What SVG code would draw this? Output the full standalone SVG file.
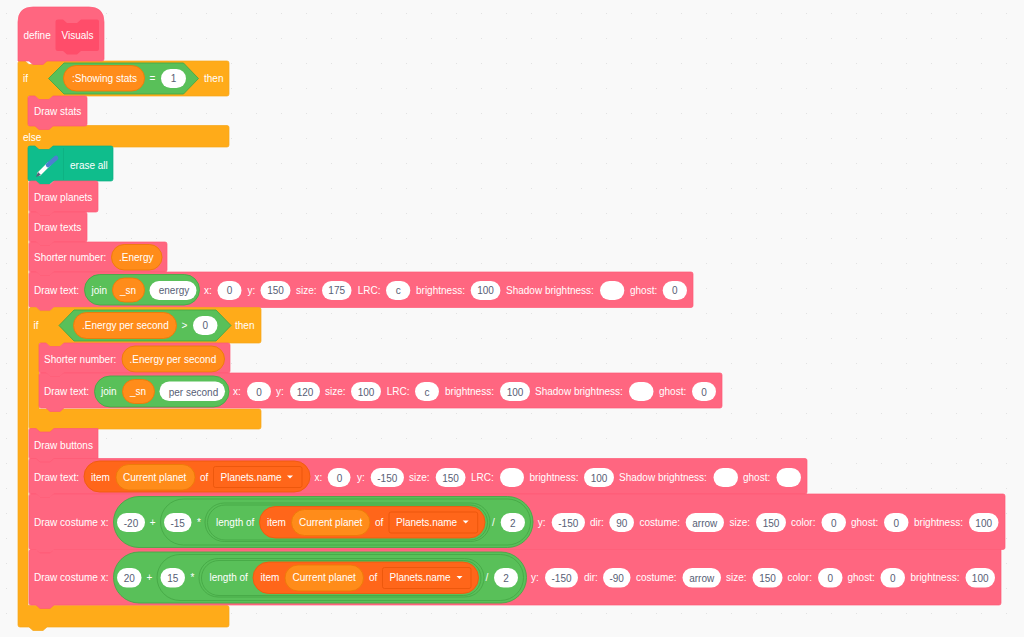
<svg xmlns="http://www.w3.org/2000/svg" width="1024" height="637" viewBox="0 0 1024 637">
<style>
text{font-family:"Liberation Sans",Arial,sans-serif;font-size:10px;fill:#fff;dominant-baseline:central}
.in{fill:#575E75;text-anchor:middle}
.mid{text-anchor:middle}
.b{fill:#FF6680;stroke:#FF5A76;stroke-width:.7}
.c{fill:#FFAB19;stroke:#F7A617;stroke-width:.7}
.pen{fill:#0FBD8C;stroke:#0DAF82;stroke-width:.7}
.g{fill:#59C059;stroke:#46A846;stroke-width:.9}
.v{fill:#FF8C1A;stroke:#EC7A08;stroke-width:.9}
.l{fill:#FF661A;stroke:#EE5A0E;stroke-width:.9}
.dd{fill:#FF661A;stroke:#E9540A;stroke-width:.8}
.w{fill:#fff}
.cdef{fill:#FF4D6A}
</style>
<defs>
<pattern id="dots" width="25" height="25" patternUnits="userSpaceOnUse" x="6" y="13">
<rect x="0" y="0" width="1" height="1" fill="#e2e2e2"/>
</pattern>
<path id="arrow" d="M-3,-1.5H3L0,1.5Z" fill="#fff"/>
</defs>
<rect width="1024" height="637" fill="#F9F9F9"/>
<rect width="1024" height="637" fill="url(#dots)"/>

<g id="if-outer">
<path class="c" d="M18,63Q18,61 20,61H25L29,64.5H39L43,61H227Q229,61 229,63V94Q229,96 227,96H53L49,99.5H39L35,96H28V125.5H227Q229,125.5 229,127.5V145Q229,147 227,147H53L49,150.500H39L35,147H28V605.500H227Q229,605.500 229,607.500V625Q229,627 227,627H47L43,630.500H33L29,627H20Q18,627 18,625Z"/>
<text x="23" y="78.500">if</text>
<text x="204" y="78.500">then</text>
<text x="23" y="137">else</text>
</g>

<g id="define-visuals">
<path class="b" d="M18,61V22Q18,7 33,7H89Q104,7 104,22V59Q104,61 102,61H47L43,64.500H33L29,61Z"/>
<text x="23.500" y="35">define</text>
<path class="cdef" d="M58,19.500H63L67,23H77L81,19.500H97Q99,19.500 99,21.500V49Q99,51 97,51H81L77,54.500H67L63,51H58Q55.500,51 55.500,49V21.500Q55.500,19.500 58,19.500Z"/>
<text x="61.500" y="35.500">Visuals</text>
</g>

<g id="showing-stats-cond">
<path class="g" d="M64,63H183.500L198.500,78.500L183.500,94H64L48.500,78.500Z"/>
<rect class="v" x="63.500" y="65.500" width="81" height="25.500" rx="12.700"/>
<text x="72" y="78.500">:Showing stats</text>
<text x="149.500" y="78.500">=</text>
<rect class="w" x="161" y="69" width="25" height="19" rx="9.500"/>
<text class="in" x="173.500" y="78.500">1</text>
</g>

<g id="draw-stats">
<path class="b" d="M28,98Q28,96 30,96H35L39,99.500H49L53,96H85Q87,96 87,98V124Q87,126 85,126H53L49,129.500H39L35,126H30Q28,126 28,124Z"/>
<text x="34" y="111.500">Draw stats</text>
</g>

<g id="erase-all">
<path class="pen" d="M28,148Q28,146 30,146H35L39,149.500H49L53,146H111Q113,146 113,148V179Q113,181 111,181H53L49,184.500H39L35,181H30Q28,181 28,179Z"/>
<line x1="63.500" y1="148" x2="63.500" y2="180" stroke="#0DAF82" stroke-width=".8"/>
<line x1="39" y1="174" x2="49" y2="164" stroke="#fff" stroke-width="4" stroke-linecap="round"/>
<line x1="48" y1="165" x2="56" y2="158" stroke="#4C7FD0" stroke-width="4.500" stroke-linecap="round"/>
<path d="M36,177L38,172L41,175Z" fill="#575E75"/>
<text x="70" y="165">erase all</text>
</g>

<g id="draw-planets">
<path class="b" d="M29,183Q29,181 31,181H36L40,184.500H50L54,181H96Q98,181 98,183V210Q98,212 96,212H54L50,215.500H40L36,212H31Q29,212 29,210Z"/>
<text x="34" y="197.500">Draw planets</text>
</g>

<g id="draw-texts">
<path class="b" d="M29,214Q29,212 31,212H36L40,215.500H50L54,212H85Q87,212 87,214V240Q87,242 85,242H54L50,245.500H40L36,242H31Q29,242 29,240Z"/>
<text x="34" y="227.500">Draw texts</text>
</g>

<g id="shorter-energy">
<path class="b" d="M29,244Q29,242 31,242H36L40,245.500H50L54,242H165Q167,242 167,244V270Q167,272 165,272H54L50,275.500H40L36,272H31Q29,272 29,270Z"/>
<text x="34" y="257.500">Shorter number:</text>
<rect class="v" x="111.500" y="244.500" width="50.500" height="25.500" rx="12.700"/>
<text x="119" y="257.500">.Energy</text>
</g>

<g id="draw-text-energy">
<path class="b" d="M29,274Q29,272 31,272H36L40,275.500H50L54,272H691Q693,272 693,274V305.500Q693,307.500 691,307.500H54L50,311H40L36,307.500H31Q29,307.500 29,305.500Z"/>
<text x="34" y="290">Draw text:</text>
<rect class="g" x="84.500" y="274.500" width="115" height="30.500" rx="15.200"/>
<text x="91.500" y="290">join</text>
<rect class="v" x="112.500" y="278" width="32" height="24" rx="12"/>
<text x="120" y="290">_sn</text>
<rect class="w" x="149.500" y="281" width="47" height="19" rx="9.500"/>
<text class="in" x="174" y="290.500">energy</text>
<text x="204" y="290">x:</text>
<rect class="w" x="217.500" y="281" width="24" height="19" rx="9.500"/><text class="in" x="229.500" y="290.500">0</text>
<text x="247.500" y="290">y:</text>
<rect class="w" x="260.500" y="281" width="30" height="19" rx="9.500"/><text class="in" x="275.500" y="290.500">150</text>
<text x="296" y="290">size:</text>
<rect class="w" x="322" y="281" width="29.500" height="19" rx="9.500"/><text class="in" x="336.700" y="290.500">175</text>
<text x="357.700" y="290">LRC:</text>
<rect class="w" x="386" y="281" width="24.300" height="19" rx="9.500"/><text class="in" x="398.200" y="290.500">c</text>
<text x="416" y="290">brightness:</text>
<rect class="w" x="470.700" y="281" width="29.700" height="19" rx="9.500"/><text class="in" x="485.500" y="290.500">100</text>
<text x="506" y="290">Shadow brightness:</text>
<rect class="w" x="600" y="281" width="24.300" height="19" rx="9.500"/>
<text x="630" y="290">ghost:</text>
<rect class="w" x="662.700" y="281" width="24.300" height="19" rx="9.500"/><text class="in" x="674.800" y="290.500">0</text>
</g>

<g id="if-inner">
<path class="c" d="M29,309.500Q29,307.500 31,307.500H36L40,311H50L54,307.500H259Q261,307.500 261,309.500V341Q261,343 259,343H64L60,346.500H50L46,343H39V409H259Q261,409 261,411V427Q261,429 259,429H54L50,432.500H40L36,429H31Q29,429 29,427Z"/>
<text x="33.500" y="325.500">if</text>
<text x="235" y="325.500">then</text>
<path class="g" d="M74,310H216L231,325.500L216,341H74L59,325.500Z"/>
<rect class="v" x="73.500" y="312.500" width="103" height="26" rx="13"/>
<text x="82" y="325.500">.Energy per second</text>
<text x="181.500" y="325.500">&gt;</text>
<rect class="w" x="193" y="316" width="24.500" height="19" rx="9.500"/>
<text class="in" x="205.200" y="325.500">0</text>
</g>

<g id="shorter-energy-per-second">
<path class="b" d="M39,345Q39,343 41,343H46L50,346.500H60L64,343H228Q230,343 230,345V371Q230,373 228,373H64L60,376.500H50L46,373H41Q39,373 39,371Z"/>
<text x="44" y="359">Shorter number:</text>
<rect class="v" x="122" y="346" width="102.500" height="26" rx="13"/>
<text x="129.500" y="359">.Energy per second</text>
</g>

<g id="draw-text-per-second">
<path class="b" d="M39,375Q39,373 41,373H46L50,376.500H60L64,373H720Q722,373 722,375V406Q722,408 720,408H64L60,411.500H50L46,408H41Q39,408 39,406Z"/>
<text x="44" y="391.500">Draw text:</text>
<rect class="g" x="94.500" y="376" width="134.500" height="31" rx="15.500"/>
<text x="101" y="391.500">join</text>
<rect class="v" x="122.500" y="379.500" width="32" height="24" rx="12"/>
<text x="130" y="391.500">_sn</text>
<rect class="w" x="159.500" y="381.500" width="65.500" height="19.500" rx="9.700"/>
<text class="in" x="193.500" y="392">per second</text>
<text x="233" y="391.500">x:</text>
<rect class="w" x="247" y="382" width="24" height="19" rx="9.500"/><text class="in" x="259" y="392">0</text>
<text x="276" y="391.500">y:</text>
<rect class="w" x="290" y="382" width="30" height="19" rx="9.500"/><text class="in" x="305" y="392">120</text>
<text x="325" y="391.500">size:</text>
<rect class="w" x="351" y="382" width="30" height="19" rx="9.500"/><text class="in" x="366" y="392">100</text>
<text x="386.700" y="391.500">LRC:</text>
<rect class="w" x="415" y="382" width="24" height="19" rx="9.500"/><text class="in" x="427" y="392">c</text>
<text x="445" y="391.500">brightness:</text>
<rect class="w" x="500" y="382" width="30" height="19" rx="9.500"/><text class="in" x="515" y="392">100</text>
<text x="535" y="391.500">Shadow brightness:</text>
<rect class="w" x="629" y="382" width="24.500" height="19" rx="9.500"/>
<text x="659" y="391.500">ghost:</text>
<rect class="w" x="692" y="382" width="24" height="19" rx="9.500"/><text class="in" x="704" y="392">0</text>
</g>

<g id="draw-buttons">
<path class="b" d="M29,430Q29,428.500 31,428.500H36L40,432H50L54,428.500H98V459H54L50,462.500H40L36,459H31Q29,459 29,457Z"/>
<text x="34" y="445">Draw buttons</text>
</g>

<g id="draw-text-planet">
<path class="b" d="M29,460.500Q29,458.500 31,458.500H36L40,462H50L54,458.500H805Q807,458.500 807,460.500V492Q807,494 805,494H54L50,497.500H40L36,494H31Q29,494 29,492Z"/>
<text x="34" y="477.500">Draw text:</text>
<rect class="l" x="84" y="461" width="226" height="31" rx="15.500"/>
<text x="91" y="477.500">item</text>
<rect class="v" x="116" y="464.500" width="79" height="25.500" rx="12.700"/>
<text x="123" y="477.500">Current planet</text>
<text x="200" y="477.500">of</text>
<rect class="dd" x="213.500" y="466.500" width="88.500" height="21" rx="2"/>
<text x="220.500" y="477.500">Planets.name</text>
<use href="#arrow" x="290" y="477"/>
<text x="314.500" y="477.500">x:</text>
<rect class="w" x="327.700" y="468" width="22.800" height="19" rx="9.500"/><text class="in" x="339.500" y="478">0</text>
<text x="357" y="477.500">y:</text>
<rect class="w" x="370.700" y="468" width="33.300" height="19" rx="9.500"/><text class="in" x="387.300" y="478">-150</text>
<text x="409" y="477.500">size:</text>
<rect class="w" x="435.700" y="468" width="29.800" height="19" rx="9.500"/><text class="in" x="450.600" y="478">150</text>
<text x="471" y="477.500">LRC:</text>
<rect class="w" x="500" y="468" width="24" height="19" rx="9.500"/>
<text x="529.500" y="477.500">brightness:</text>
<rect class="w" x="584" y="468" width="30" height="19" rx="9.500"/><text class="in" x="599" y="478">100</text>
<text x="619" y="477.500">Shadow brightness:</text>
<rect class="w" x="713.500" y="468" width="24.500" height="19" rx="9.500"/>
<text x="743" y="477.500">ghost:</text>
<rect class="w" x="776.500" y="468" width="24.500" height="19" rx="9.500"/>
</g>

<g id="draw-costume-1">
<path class="b" d="M29,496Q29,494 31,494H36L40,497.500H50L54,494H1003Q1005,494 1005,496V547.500Q1005,549.500 1003,549.500H54L50,553H40L36,549.500H31Q29,549.500 29,547.500Z"/>
<text x="34" y="522.500">Draw costume x:</text>
<rect class="g" x="113.500" y="496.500" width="419.500" height="51" rx="25.500"/>
<rect class="w" x="117" y="513" width="28" height="19" rx="9.500"/><text class="in" x="131" y="523">-20</text>
<text class="mid" x="152.700" y="522.500">+</text>
<rect class="g" x="160.500" y="499" width="370" height="46" rx="23"/>
<rect class="w" x="164" y="513" width="27.500" height="19" rx="9.500"/><text class="in" x="177.700" y="523">-15</text>
<text class="mid" x="199" y="522.500">*</text>
<rect class="g" x="205" y="503" width="285" height="38.500" rx="19.200"/>
<rect class="g" x="207.500" y="505" width="280" height="35" rx="17.500"/>
<text x="216" y="522.500">length of</text>
<rect class="l" x="259.500" y="506.500" width="225.500" height="31.500" rx="15.700"/>
<text x="267" y="522.500">item</text>
<rect class="v" x="291.500" y="509.500" width="78.500" height="26" rx="13"/>
<text x="299" y="522.500">Current planet</text>
<text x="375" y="522.500">of</text>
<rect class="dd" x="389" y="512" width="88.700" height="21" rx="2"/>
<text x="396" y="522.500">Planets.name</text>
<use href="#arrow" x="465.700" y="522"/>
<text class="mid" x="493.500" y="522.500">/</text>
<rect class="w" x="500.700" y="513" width="24.300" height="19" rx="9.500"/><text class="in" x="512.800" y="523">2</text>
<text x="537.700" y="522.500">y:</text>
<rect class="w" x="551.700" y="513" width="33.300" height="19" rx="9.500"/><text class="in" x="568.300" y="523">-150</text>
<text x="590" y="522.500">dir:</text>
<rect class="w" x="609.300" y="513" width="24.700" height="19" rx="9.500"/><text class="in" x="621.700" y="523">90</text>
<text x="639.500" y="522.500">costume:</text>
<rect class="w" x="685.700" y="513" width="38.300" height="19" rx="9.500"/><text class="in" x="704.800" y="523">arrow</text>
<text x="729.500" y="522.500">size:</text>
<rect class="w" x="756" y="513" width="30" height="19" rx="9.500"/><text class="in" x="771" y="523">150</text>
<text x="791" y="522.500">color:</text>
<rect class="w" x="821.500" y="513" width="24.500" height="19" rx="9.500"/><text class="in" x="833.700" y="523">0</text>
<text x="851" y="522.500">ghost:</text>
<rect class="w" x="884" y="513" width="24.500" height="19" rx="9.500"/><text class="in" x="896.200" y="523">0</text>
<text x="914" y="522.500">brightness:</text>
<rect class="w" x="969" y="513" width="29.500" height="19" rx="9.500"/><text class="in" x="983.700" y="523">100</text>
</g>

<g id="draw-costume-2">
<path class="b" d="M29,551.500Q29,549.500 31,549.500H36L40,553H50L54,549.500H1001V603Q1001,605 999,605H54L50,608.500H40L36,605H31Q29,605 29,603Z"/>
<text x="34" y="577.500">Draw costume x:</text>
<rect class="g" x="113.500" y="552" width="413" height="51" rx="25.500"/>
<rect class="w" x="117" y="568" width="24.500" height="19.500" rx="9.700"/><text class="in" x="129.200" y="578">20</text>
<text class="mid" x="149.500" y="577.500">+</text>
<rect class="g" x="157" y="554.500" width="366.500" height="46" rx="23"/>
<rect class="w" x="160.500" y="568" width="24.500" height="19.500" rx="9.700"/><text class="in" x="172.700" y="578">15</text>
<text class="mid" x="192.500" y="577.500">*</text>
<rect class="g" x="199" y="558.500" width="285" height="38.500" rx="19.200"/>
<rect class="g" x="201.500" y="560.500" width="279.500" height="35" rx="17.500"/>
<text x="209.500" y="577.500">length of</text>
<rect class="l" x="253" y="562" width="225.500" height="31.500" rx="15.700"/>
<text x="260.500" y="577.500">item</text>
<rect class="v" x="285" y="565" width="78.500" height="26" rx="13"/>
<text x="292.500" y="577.500">Current planet</text>
<text x="369" y="577.500">of</text>
<rect class="dd" x="382.500" y="567.500" width="88.500" height="21" rx="2"/>
<text x="389.500" y="577.500">Planets.name</text>
<use href="#arrow" x="459.500" y="577.500"/>
<text class="mid" x="487" y="577.500">/</text>
<rect class="w" x="494" y="568" width="24" height="19.500" rx="9.700"/><text class="in" x="506" y="578">2</text>
<text x="531" y="577.500">y:</text>
<rect class="w" x="545" y="568" width="33" height="19.500" rx="9.700"/><text class="in" x="561.500" y="578">-150</text>
<text x="584" y="577.500">dir:</text>
<rect class="w" x="603" y="568" width="27.500" height="19.500" rx="9.700"/><text class="in" x="616.700" y="578">-90</text>
<text x="636" y="577.500">costume:</text>
<rect class="w" x="682.500" y="568" width="38.500" height="19.500" rx="9.700"/><text class="in" x="701.700" y="578">arrow</text>
<text x="726" y="577.500">size:</text>
<rect class="w" x="752.500" y="568" width="30" height="19.500" rx="9.700"/><text class="in" x="767.500" y="578">150</text>
<text x="787.500" y="577.500">color:</text>
<rect class="w" x="818" y="568" width="24.500" height="19.500" rx="9.700"/><text class="in" x="830.200" y="578">0</text>
<text x="847.500" y="577.500">ghost:</text>
<rect class="w" x="880.500" y="568" width="24.500" height="19.500" rx="9.700"/><text class="in" x="892.700" y="578">0</text>
<text x="910.500" y="577.500">brightness:</text>
<rect class="w" x="965.500" y="568" width="29.500" height="19.500" rx="9.700"/><text class="in" x="980.200" y="578">100</text>
</g>
</svg>
